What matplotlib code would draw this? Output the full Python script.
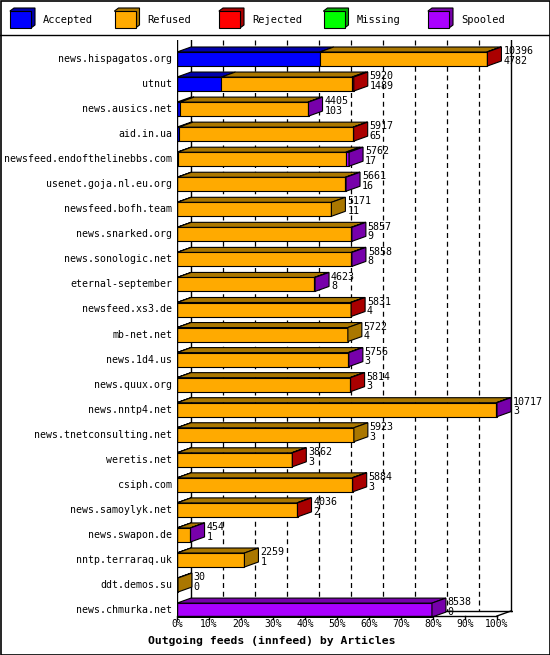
import matplotlib
matplotlib.use('Agg')
import matplotlib.pyplot as plt
from matplotlib.patches import Polygon, Rectangle

# feed names, total articles offered and accepted
hosts = ['news.hispagatos.org', 'utnut', 'news.ausics.net', 'aid.in.ua',
         'newsfeed.endofthelinebbs.com', 'usenet.goja.nl.eu.org', 'newsfeed.bofh.team',
         'news.snarked.org', 'news.sonologic.net', 'eternal-september', 'newsfeed.xs3.de',
         'mb-net.net', 'news.1d4.us', 'news.quux.org', 'news.nntp4.net',
         'news.tnetconsulting.net', 'weretis.net', 'csiph.com', 'news.samoylyk.net',
         'news.swapon.de', 'nntp.terraraq.uk', 'ddt.demos.su', 'news.chmurka.net']
total = [10396, 5920, 4405, 5917, 5762, 5661, 5171, 5857, 5858, 4623, 5831, 5722,
         5756, 5814, 10717, 5923, 3862, 5884, 4036, 454, 2259, 30, 8538]
accepted = [4782, 1489, 103, 65, 17, 16, 11, 9, 8, 8, 4, 4, 3, 3, 3, 3, 3, 3, 2, 1, 1, 0, 0]
# estimated small counts (rejected / spooled), rest is refused
rejected = [20, 60, 0, 20, 0, 0, 0, 0, 0, 0, 20, 0, 0, 20, 0, 0, 20, 20, 20, 0, 0, 0, 0]
spooled = [0, 0, 20, 0, 110, 20, 0, 20, 20, 20, 0, 0, 20, 0, 20, 0, 0, 0, 0, 3, 0, 0, 8538]

legend_names = ['Accepted', 'Refused', 'Rejected', 'Missing', 'Spooled']
front = ['#0000ff', '#ffaa00', '#ff0000', '#00ff00', '#aa00ff']
dark = ['#0000aa', '#aa7700', '#aa0000', '#00aa00', '#7700aa']

W, H = 550, 655
fig = plt.figure(figsize=(5.5, 6.55), dpi=100)
font = 'DejaVu Sans Mono'

# main plot axes in percent / row units
x0, x1 = 177, 513
ytop, ybot = 40, 618
ax = fig.add_axes([x0 / W, 1 - ybot / H, (x1 - x0) / W, (ybot - ytop) / H])
pxx = 3.2            # pixels per percent
pxy = 25.05          # pixels per row
xmax = (x1 - x0) / pxx
r0 = (59 - ytop) / pxy
ax.set_xlim(0, xmax)
ax.set_ylim((ybot - ytop) / pxy - r0, -r0)
ax.axis('off')
dx = 14 / pxx
dy = 5 / pxy
bh = 14 / pxy
mx = max(total)
n = len(hosts)

# back wall lines and grid
yb_floor = (616 - 59) / pxy
ax.plot([dx, dx], [-r0, yb_floor - dy], color='black', lw=1, zorder=1)
ax.plot([100 + dx, 100 + dx], [-r0, yb_floor - dy], color='black', lw=1, zorder=1)
for p in range(10, 100, 10):
    ax.plot([p + dx, p + dx], [-r0, yb_floor - dy], color='black', lw=0.9,
            ls=(0, (4, 3)), zorder=1)
ax.plot([0, 0], [-r0, yb_floor], color='black', lw=1, zorder=5)
ax.plot([0, 100], [yb_floor, yb_floor], color='black', lw=1, zorder=5)
ax.plot([dx, 100 + dx + 5], [yb_floor - dy, yb_floor - dy], color='black', lw=1, zorder=1)
ax.plot([100, 100 + dx], [yb_floor, yb_floor - dy], color='black', lw=1, zorder=5)
for p in range(0, 101, 10):
    ax.plot([p, p], [yb_floor, yb_floor + 0.1], color='black', lw=1, clip_on=False)
    ax.text(p, yb_floor + 0.12, f'{p}%', ha='center', va='top', fontsize=7,
            family=font, clip_on=False)

for i in range(n):
    refused = total[i] - accepted[i] - rejected[i] - spooled[i]
    parts = [accepted[i], refused, rejected[i], 0, spooled[i]]
    scale = 100.0 / mx
    left = 0.0
    yc = i
    yt = yc - bh / 2
    end_col = 1
    for k, v in enumerate(parts):
        if v <= 0:
            continue
        w = v * scale
        ax.add_patch(Rectangle((left, yt), w, bh, facecolor=front[k],
                               edgecolor='black', lw=0.8, zorder=3))
        ax.add_patch(Polygon([(left, yt), (left + dx, yt - dy), (left + w + dx, yt - dy),
                              (left + w, yt)], closed=True, facecolor=dark[k],
                             edgecolor='black', lw=0.8, zorder=3))
        left += w
        end_col = k
    ax.add_patch(Polygon([(left, yt), (left + dx, yt - dy), (left + dx, yt + bh - dy),
                          (left, yt + bh)], closed=True, facecolor=dark[end_col],
                         edgecolor='black', lw=0.8, zorder=4))
    ax.text(left + dx + 0.6, yc - 0.12, f'{total[i]}\n{accepted[i]}', ha='left',
            va='center', fontsize=7.2, family=font, linespacing=0.95, zorder=6,
            clip_on=False)
    ax.text(-1.5, yc, hosts[i], ha='right', va='center', fontsize=7.1, family=font,
            clip_on=False)

fig.text(148 / W, 1 - 641 / H, 'Outgoing feeds (innfeed) by Articles', fontsize=8.2,
         family=font, weight='bold', va='center', ha='left')

# legend strip
lax = fig.add_axes([0, 0, 1, 1])
lax.set_xlim(0, W)
lax.set_ylim(H, 0)
lax.axis('off')
lax.add_patch(Rectangle((0.5, 0.5), W - 1, H - 1, fill=False, edgecolor='black', lw=1.2))
lax.plot([0, W], [35, 35], color='black', lw=1)
for k, name in enumerate(legend_names):
    lx = 10 + k * 104.5
    lax.add_patch(Polygon([(lx, 11), (lx + 4, 8), (lx + 25, 8), (lx + 25, 25), (lx + 21, 28)],
                          closed=True, facecolor=dark[k], edgecolor='black', lw=0.8))
    lax.add_patch(Rectangle((lx, 11), 21, 17, facecolor=front[k], edgecolor='black', lw=0.8))
    lax.text(lx + 33, 20, name, fontsize=7.5, family=font, va='center', ha='left')

fig.savefig('out.png', dpi=100)
